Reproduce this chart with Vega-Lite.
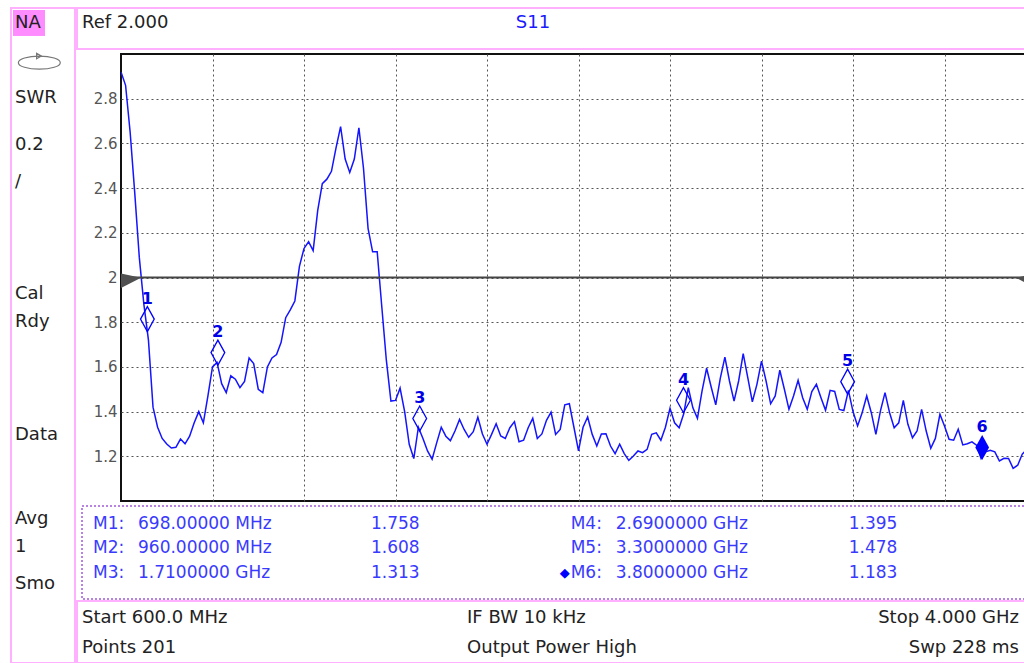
{
  "$schema": "https://vega.github.io/schema/vega-lite/v6.json",
  "padding": {"left": 10, "top": 7, "right": 0, "bottom": 0},
  "background": "white",
  "config": {
    "view": {"stroke": null},
    "text": {"font": "DejaVu Sans"},
    "axis": {"labelFont": "DejaVu Sans"}
  },
  "datasets": {
    "trace": [
      {"f":600,"swr":2.92},{"f":617,"swr":2.86},{"f":634,"swr":2.65},{"f":651,"swr":2.38},{"f":668,"swr":2.09},
      {"f":685,"swr":1.88},{"f":702,"swr":1.72},{"f":719,"swr":1.42},{"f":736,"swr":1.33},{"f":753,"swr":1.28},
      {"f":770,"swr":1.255},{"f":787,"swr":1.237},{"f":804,"swr":1.24},{"f":821,"swr":1.277},{"f":838,"swr":1.256},
      {"f":855,"swr":1.29},{"f":872,"swr":1.35},{"f":889,"swr":1.40},{"f":906,"swr":1.35},{"f":923,"swr":1.47},
      {"f":940,"swr":1.60},{"f":957,"swr":1.62},{"f":974,"swr":1.525},{"f":991,"swr":1.485},{"f":1008,"swr":1.56},
      {"f":1025,"swr":1.545},{"f":1042,"swr":1.507},{"f":1059,"swr":1.535},{"f":1076,"swr":1.64},{"f":1093,"swr":1.615},
      {"f":1110,"swr":1.50},{"f":1127,"swr":1.485},{"f":1144,"swr":1.60},{"f":1161,"swr":1.64},{"f":1178,"swr":1.655},
      {"f":1195,"swr":1.71},{"f":1212,"swr":1.82},{"f":1229,"swr":1.855},{"f":1246,"swr":1.895},{"f":1263,"swr":2.05},
      {"f":1280,"swr":2.13},{"f":1297,"swr":2.16},{"f":1314,"swr":2.12},{"f":1331,"swr":2.30},{"f":1348,"swr":2.42},
      {"f":1365,"swr":2.44},{"f":1382,"swr":2.475},{"f":1399,"swr":2.58},{"f":1416,"swr":2.675},{"f":1433,"swr":2.53},
      {"f":1450,"swr":2.47},{"f":1467,"swr":2.53},{"f":1484,"swr":2.67},{"f":1501,"swr":2.49},{"f":1518,"swr":2.22},
      {"f":1535,"swr":2.115},{"f":1552,"swr":2.115},{"f":1569,"swr":1.87},{"f":1586,"swr":1.63},{"f":1603,"swr":1.447},
      {"f":1620,"swr":1.45},{"f":1637,"swr":1.505},{"f":1654,"swr":1.40},{"f":1671,"swr":1.254},{"f":1688,"swr":1.19},
      {"f":1705,"swr":1.33},{"f":1722,"swr":1.28},{"f":1739,"swr":1.224},{"f":1756,"swr":1.187},{"f":1773,"swr":1.26},
      {"f":1790,"swr":1.33},{"f":1807,"swr":1.29},{"f":1824,"swr":1.27},{"f":1841,"swr":1.313},{"f":1858,"swr":1.365},
      {"f":1875,"swr":1.32},{"f":1892,"swr":1.285},{"f":1909,"swr":1.31},{"f":1926,"swr":1.375},{"f":1943,"swr":1.30},
      {"f":1960,"swr":1.254},{"f":1977,"swr":1.298},{"f":1994,"swr":1.346},{"f":2011,"swr":1.291},{"f":2028,"swr":1.28},
      {"f":2045,"swr":1.328},{"f":2062,"swr":1.355},{"f":2079,"swr":1.265},{"f":2096,"swr":1.272},{"f":2113,"swr":1.328},
      {"f":2130,"swr":1.37},{"f":2147,"swr":1.28},{"f":2164,"swr":1.30},{"f":2181,"swr":1.361},{"f":2198,"swr":1.398},
      {"f":2215,"swr":1.298},{"f":2232,"swr":1.32},{"f":2249,"swr":1.43},{"f":2266,"swr":1.435},{"f":2283,"swr":1.33},
      {"f":2300,"swr":1.224},{"f":2317,"swr":1.33},{"f":2334,"swr":1.376},{"f":2351,"swr":1.298},{"f":2368,"swr":1.246},
      {"f":2385,"swr":1.30},{"f":2402,"swr":1.301},{"f":2419,"swr":1.246},{"f":2436,"swr":1.212},{"f":2453,"swr":1.254},
      {"f":2470,"swr":1.212},{"f":2487,"swr":1.182},{"f":2504,"swr":1.201},{"f":2521,"swr":1.224},{"f":2538,"swr":1.216},
      {"f":2555,"swr":1.231},{"f":2572,"swr":1.298},{"f":2589,"swr":1.305},{"f":2606,"swr":1.272},{"f":2623,"swr":1.33},
      {"f":2640,"swr":1.415},{"f":2657,"swr":1.35},{"f":2674,"swr":1.328},{"f":2691,"swr":1.39},{"f":2708,"swr":1.507},
      {"f":2725,"swr":1.417},{"f":2742,"swr":1.37},{"f":2759,"swr":1.492},{"f":2776,"swr":1.594},{"f":2793,"swr":1.51},
      {"f":2810,"swr":1.43},{"f":2827,"swr":1.55},{"f":2844,"swr":1.644},{"f":2861,"swr":1.537},{"f":2878,"swr":1.447},
      {"f":2895,"swr":1.537},{"f":2912,"swr":1.659},{"f":2929,"swr":1.552},{"f":2946,"swr":1.444},{"f":2963,"swr":1.522},
      {"f":2980,"swr":1.626},{"f":2997,"swr":1.537},{"f":3014,"swr":1.435},{"f":3031,"swr":1.47},{"f":3048,"swr":1.585},
      {"f":3065,"swr":1.50},{"f":3082,"swr":1.41},{"f":3099,"swr":1.47},{"f":3116,"swr":1.54},{"f":3133,"swr":1.462},
      {"f":3150,"swr":1.41},{"f":3167,"swr":1.49},{"f":3184,"swr":1.522},{"f":3201,"swr":1.462},{"f":3218,"swr":1.406},
      {"f":3235,"swr":1.495},{"f":3252,"swr":1.49},{"f":3269,"swr":1.41},{"f":3286,"swr":1.405},{"f":3303,"swr":1.495},
      {"f":3320,"swr":1.40},{"f":3337,"swr":1.336},{"f":3354,"swr":1.395},{"f":3371,"swr":1.47},{"f":3388,"swr":1.395},
      {"f":3405,"swr":1.298},{"f":3422,"swr":1.403},{"f":3439,"swr":1.485},{"f":3456,"swr":1.395},{"f":3473,"swr":1.328},
      {"f":3490,"swr":1.35},{"f":3507,"swr":1.45},{"f":3524,"swr":1.343},{"f":3541,"swr":1.283},{"f":3558,"swr":1.313},
      {"f":3575,"swr":1.41},{"f":3592,"swr":1.313},{"f":3609,"swr":1.236},{"f":3626,"swr":1.28},{"f":3643,"swr":1.388},
      {"f":3660,"swr":1.336},{"f":3677,"swr":1.276},{"f":3694,"swr":1.272},{"f":3711,"swr":1.321},{"f":3728,"swr":1.251},
      {"f":3745,"swr":1.256},{"f":3762,"swr":1.265},{"f":3779,"swr":1.25},{"f":3796,"swr":1.19},{"f":3813,"swr":1.22},
      {"f":3830,"swr":1.227},{"f":3847,"swr":1.22},{"f":3864,"swr":1.179},{"f":3881,"swr":1.191},{"f":3898,"swr":1.19},
      {"f":3915,"swr":1.146},{"f":3932,"swr":1.16},{"f":3949,"swr":1.21},{"f":3966,"swr":1.23},{"f":3983,"swr":1.22},
      {"f":4000,"swr":1.21}
    ],
    "markers": [
      {"n":"1","label":"M1:","f":698,"freqText":"698.00000 MHz","swr":1.758,"valueText":"1.758","active":false},
      {"n":"2","label":"M2:","f":960,"freqText":"960.00000 MHz","swr":1.608,"valueText":"1.608","active":false},
      {"n":"3","label":"M3:","f":1710,"freqText":"1.7100000 GHz","swr":1.313,"valueText":"1.313","active":false},
      {"n":"4","label":"M4:","f":2690,"freqText":"2.6900000 GHz","swr":1.395,"valueText":"1.395","active":false},
      {"n":"5","label":"M5:","f":3300,"freqText":"3.3000000 GHz","swr":1.478,"valueText":"1.478","active":false},
      {"n":"6","label":"M6:","f":3800,"freqText":"3.8000000 GHz","swr":1.183,"valueText":"1.183","active":true}
    ],
    "sidebar": [
      {"key":"NA"},{"key":"icon"},{"key":"SWR"},{"key":"0.2"},{"key":"/"},{"key":"Cal"},{"key":"Rdy"},
      {"key":"Data"},{"key":"Avg"},{"key":"1"},{"key":"Smo"}
    ]
  },
  "spacing": 0,
  "hconcat": [
    {
      "width": 64,
      "height": 655,
      "view": {"stroke": "#ffb0ff", "strokeWidth": 2},
      "data": {"name": "sidebar"},
      "encoding": {
        "x": {"datum": "c", "type": "nominal", "scale": {"type": "point", "align": 0.0625}, "axis": null},
        "y": {
          "field": "key", "type": "nominal", "axis": null,
          "scale": {
            "type": "point", "padding": 1, "align": 0.8,
            "domain": ["NA","_1","_2","_3","icon","_5","_6","_7","SWR","_9","_10","_11","_12","0.2","_14","_15","_16","/","_18","_19","_20","_21","_22","_23","_24","_25","_26","_27","_28","Cal","_30","_31","Rdy","_33","_34","_35","_36","_37","_38","_39","_40","_41","_42","_43","Data","_45","_46","_47","_48","_49","_50","_51","_52","Avg","_54","_55","1","_57","_58","_59","Smo","_61","_62","_63","_64","_65","_66","_67","_68"]
          }
        }
      },
      "layer": [
        {
          "transform": [{"filter": "datum.key == 'NA'"}],
          "mark": {"type": "point", "shape": "M-0.125,-0.8125L1.875,-0.8125L1.875,0.8125L-0.125,0.8125Z", "size": 1024, "filled": true, "color": "#ff8cff", "opacity": 1}
        },
        {
          "transform": [{"filter": "datum.key == 'icon'"}],
          "mark": {"type": "point", "shape": "M0.21,0.14A1.31,0.41,0,1,0,2.83,0.14A1.31,0.41,0,1,0,0.21,0.14Z M1.35,-0.45L1.65,-0.27L1.35,-0.1Z", "size": 1024, "filled": false, "color": "#777", "strokeWidth": 1.2, "opacity": 1}
        },
        {
          "transform": [{"filter": "datum.key != 'icon'"}],
          "mark": {"type": "text", "align": "left", "baseline": "middle", "fontSize": 18, "color": "#222"},
          "encoding": {"text": {"field": "key"}}
        }
      ]
    },
    {
      "spacing": 0,
      "vconcat": [
        {
          "spacing": 3,
          "vconcat": [
            {
              "width": 958,
              "height": 41,
              "view": {"stroke": "#ffb0ff", "strokeWidth": 2},
              "data": {"values": [{"text": "Ref 2.000", "part": "ref"}, {"text": "S11", "part": "trace"}]},
              "mark": {"type": "text", "align": "left", "baseline": "middle", "fontSize": 18},
              "encoding": {
                "x": {"field": "part", "type": "nominal", "scale": {"type": "point", "domain": ["ref","trace"], "padding": 0.604, "align": 0.0095}, "axis": null},
                "y": {"datum": "r", "type": "nominal", "scale": {"type": "point", "align": 0.366}, "axis": null},
                "text": {"field": "text"},
                "color": {"field": "part", "type": "nominal", "scale": {"domain": ["ref","trace"], "range": ["#222222","#1a1aff"]}, "legend": null}
              }
            },
            {
              "spacing": 0,
              "hconcat": [
                {
                  "width": 1,
                  "height": 1,
                  "data": {"values": []},
                  "mark": {"type": "point", "opacity": 0}
                },
                {
                  "width": 915,
                  "height": 447,
                  "view": {"stroke": "#111111", "strokeWidth": 2},
                  "layer": [
                    {
                      "data": {"name": "trace"},
                      "mark": {"type": "line", "color": "#1414ff", "strokeWidth": 1.5, "clip": true},
                      "encoding": {
                        "x": {
                          "field": "f", "type": "quantitative",
                          "scale": {"domain": [600, 4000], "nice": false, "zero": false},
                          "axis": {"values": [940,1280,1620,1960,2300,2640,2980,3320,3660], "labels": false, "ticks": false, "domain": false, "grid": true, "gridDash": [2,3], "gridColor": "#555555", "gridWidth": 1, "title": null}
                        },
                        "y": {
                          "field": "swr", "type": "quantitative",
                          "scale": {"domain": [1, 3], "nice": false, "zero": false},
                          "axis": {"values": [1.2,1.4,1.6,1.8,2,2.2,2.4,2.6,2.8], "labelExpr": "datum.value == 2 ? '2' : format(datum.value, '.1f')", "grid": true, "gridDash": [2,3], "gridColor": "#555555", "gridWidth": 1, "ticks": false, "domain": false, "labelColor": "#555555", "labelFontSize": 15, "labelPadding": 4, "title": null, "minExtent": 42, "maxExtent": 42}
                        }
                      }
                    },
                    {
                      "data": {"values": [{}]},
                      "mark": {"type": "rule", "color": "#444444", "strokeWidth": 2},
                      "encoding": {"y": {"datum": 2, "type": "quantitative"}}
                    },
                    {
                      "data": {"values": [{}]},
                      "mark": {"type": "point", "shape": "M0,-0.4L2,0.03L0,1.05Z", "size": 400, "filled": true, "color": "#505050", "opacity": 1},
                      "encoding": {"x": {"datum": 600, "type": "quantitative"}, "y": {"datum": 2, "type": "quantitative"}}
                    },
                    {
                      "data": {"values": [{}]},
                      "mark": {"type": "point", "shape": "M0,-0.4L-2,0.03L0,1.05Z", "size": 400, "filled": true, "color": "#505050", "opacity": 1},
                      "encoding": {"x": {"datum": 4000, "type": "quantitative"}, "y": {"datum": 2, "type": "quantitative"}}
                    },
                    {
                      "data": {"name": "markers"},
                      "transform": [{"filter": "!datum.active"}],
                      "mark": {"type": "point", "shape": "M0,0L0.55,-1L0,-2L-0.55,-1Z", "size": 625, "filled": false, "color": "#0000ff", "strokeWidth": 1.3, "opacity": 1},
                      "encoding": {"x": {"field": "f", "type": "quantitative"}, "y": {"field": "swr", "type": "quantitative"}}
                    },
                    {
                      "data": {"name": "markers"},
                      "transform": [{"filter": "datum.active"}],
                      "mark": {"type": "point", "shape": "M0,0L0.55,-1L0,-2L-0.55,-1Z", "size": 625, "filled": true, "color": "#0000ff", "opacity": 1},
                      "encoding": {"x": {"field": "f", "type": "quantitative"}, "y": {"field": "swr", "type": "quantitative"}}
                    },
                    {
                      "data": {"name": "markers"},
                      "mark": {"type": "text", "fontWeight": "bold", "fontSize": 16, "color": "#0000e6", "baseline": "alphabetic", "align": "center", "dy": -28},
                      "encoding": {"x": {"field": "f", "type": "quantitative"}, "y": {"field": "swr", "type": "quantitative"}, "text": {"field": "n"}}
                    }
                  ]
                }
              ]
            },
            {
              "spacing": 0,
              "hconcat": [
                {
                  "width": 4,
                  "height": 1,
                  "data": {"values": []},
                  "mark": {"type": "point", "opacity": 0}
                },
                {
                  "width": 953,
                  "height": 93,
                  "view": {"stroke": "#a05ad8", "strokeWidth": 1.5, "strokeDash": [2,2]},
                  "data": {"name": "markers"},
                  "transform": [
                    {"calculate": "toNumber(datum.n) > 3 ? 'right' : 'left'", "as": "side"},
                    {"calculate": "'r' + ((toNumber(datum.n) - 1) % 3)", "as": "row"}
                  ],
                  "encoding": {
                    "x": {"field": "side", "type": "nominal", "scale": {"type": "point", "domain": ["left","right"], "padding": 0.4975, "align": 0.02314}, "axis": null},
                    "y": {"field": "row", "type": "nominal", "scale": {"type": "point", "domain": ["r0","r1","r2"], "padding": 0.898, "align": 0.409}, "axis": null}
                  },
                  "layer": [
                    {"mark": {"type": "text", "align": "left", "baseline": "middle", "fontSize": 17, "color": "#3a3aff"}, "encoding": {"text": {"field": "label"}}},
                    {"mark": {"type": "text", "align": "left", "baseline": "middle", "fontSize": 17, "color": "#3a3aff", "dx": 45}, "encoding": {"text": {"field": "freqText"}}},
                    {"mark": {"type": "text", "align": "left", "baseline": "middle", "fontSize": 17, "color": "#3a3aff", "dx": 278}, "encoding": {"text": {"field": "valueText"}}},
                    {"transform": [{"filter": "datum.active"}], "mark": {"type": "text", "align": "right", "baseline": "middle", "fontSize": 13, "color": "#0000ff", "dx": -1, "text": "◆"}}
                  ]
                }
              ]
            }
          ]
        },
        {
          "width": 958,
          "height": 62,
          "view": {"stroke": "#ffb0ff", "strokeWidth": 2},
          "data": {"values": [
            {"text": "Start 600.0 MHz", "side": "left", "line": "top"},
            {"text": "Points 201", "side": "left", "line": "bottom"},
            {"text": "IF BW 10 kHz", "side": "center", "line": "top"},
            {"text": "Output Power High", "side": "center", "line": "bottom"},
            {"text": "Stop 4.000 GHz", "side": "right", "line": "top"},
            {"text": "Swp 228 ms", "side": "right", "line": "bottom"}
          ]},
          "encoding": {
            "y": {"field": "line", "type": "nominal", "scale": {"type": "point", "domain": ["top","bottom"], "padding": 0.533, "align": 0.531}, "axis": null},
            "text": {"field": "text"}
          },
          "layer": [
            {
              "transform": [{"filter": "datum.side != 'right'"}],
              "mark": {"type": "text", "align": "left", "baseline": "middle", "fontSize": 18, "color": "#222222"},
              "encoding": {"x": {"field": "side", "type": "nominal", "scale": {"type": "point", "domain": ["left","center"], "padding": 0.744, "align": 0.00873}, "axis": null}}
            },
            {
              "transform": [{"filter": "datum.side == 'right'"}],
              "mark": {"type": "text", "align": "right", "baseline": "middle", "fontSize": 18, "color": "#222222"},
              "encoding": {"x": {"field": "side", "type": "nominal", "scale": {"type": "point", "domain": ["right"], "align": 0.9833}, "axis": null}}
            }
          ],
          "resolve": {"scale": {"x": "independent"}}
        }
      ]
    }
  ]
}
